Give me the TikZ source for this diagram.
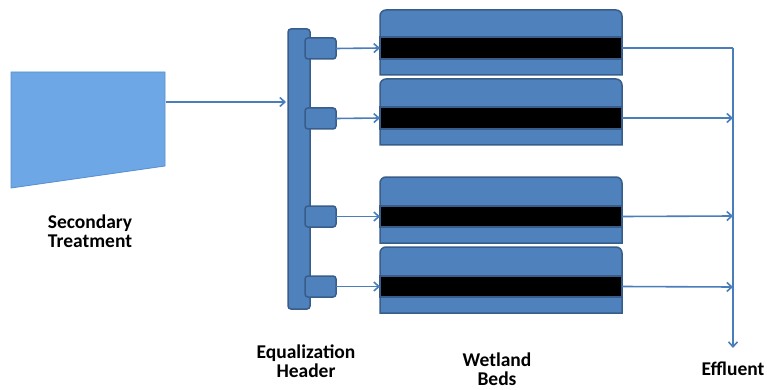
\documentclass[tikz,border=0pt]{standalone}
\usepackage{fontspec}
\setmainfont{Carlito}
\usetikzlibrary{arrows.meta}
\definecolor{bedblue}{HTML}{4F81BD}
\definecolor{bededge}{HTML}{385D8A}
\definecolor{pipe}{HTML}{4A7EBB}
\definecolor{tankblue}{HTML}{6DA7E6}
\definecolor{tankedge}{HTML}{5A8FCF}
\tikzset{
  flow/.style={draw=pipe, line width=1.6pt, -{Straight Barb[length=5pt,width=9pt,line width=1.6pt]}},
  pipeline/.style={draw=pipe, line width=1.6pt},
  bedbox/.style={fill=bedblue, draw=bededge, line width=1.5pt},
  band/.style={fill=black, draw=bededge, line width=1.5pt},
  label/.style={font=\fontsize{19.5}{19}\selectfont\bfseries, align=center, inner sep=0pt}
}
\begin{document}
\begin{tikzpicture}[x=1pt,y=-1pt]
\useasboundingbox (0,0) rectangle (767,390);

% secondary treatment tank
\fill[tankblue, draw=tankedge, line width=0.8pt] (11,72) -- (165,72) -- (165,166) -- (11,188) -- cycle;
\coordinate (tankout) at (166,102);
\node[label] (sec) at (90,231) {Secondary\\Treatment};

% equalization header with four outlet stubs
\draw[bedbox, rounded corners=3pt] (288,29) rectangle (310,309);
\coordinate (hdrin) at (286,102);
\foreach \i/\t/\b in {1/38/59, 2/108/129, 3/206/227, 4/276/297}{
  \draw[bedbox, rounded corners=3pt] (305,\t) rectangle (336,\b);
  \coordinate (stub\i) at (336,{(\t+\b)/2});
}
\node[label] (eqh) at (306,361) {Equalization\\Header};

% wetland beds: rounded top corners, black media band
\foreach \i/\t/\b/\bt/\bb in {1/10/75/37/59, 2/79/145/107/129, 3/177/243/206/227, 4/247/313/276/297}{
  \draw[bedbox] (380,\b) [rounded corners=6pt] -- (380,\t) -- (622,\t) [sharp corners] -- (622,\b) -- cycle;
  \draw[band] (380,\bt) rectangle (622,\bb);
  \coordinate (bedin\i) at (380,{(\bt+\bb)/2});
  \coordinate (bedout\i) at (622,{(\bt+\bb)/2});
}
\node[label] (wet) at (497,369) {Wetland\\Beds};

% flows
\draw[flow] (tankout) -- (hdrin);
\foreach \i in {1,...,4}{\draw[flow] (stub\i) -- (bedin\i);}

% effluent collector
\coordinate (col1) at (733,48);
\coordinate (colend) at (733,348);
\draw[pipeline] (bedout1) -- (col1);
\foreach \i/\y in {2/118, 3/216, 4/287}{
  \coordinate (col\i) at (733,\y);
  \draw[flow] (bedout\i) -- (col\i);
}
\draw[flow] (col1) -- (colend);
\node[label] (eff) at (733,369) {Effluent};
\end{tikzpicture}
\end{document}
